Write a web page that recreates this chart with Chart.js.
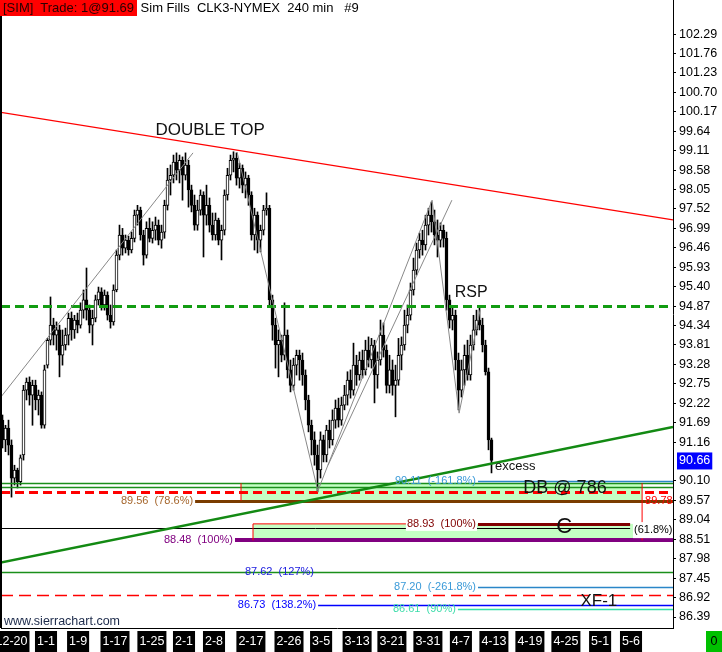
<!DOCTYPE html>
<html>
<head>
<meta charset="utf-8">
<script src="https://cdn.jsdelivr.net/npm/chart.js@4.4.0/dist/chart.umd.min.js"></script>
<style>
html, body { margin: 0; padding: 0; background: #fff; overflow: hidden; }
#wrap { position: relative; width: 722px; height: 652px; }
#hdr { position: absolute; left: 0; top: 0; font: 13px "Liberation Sans", Arial, sans-serif; line-height: 16px; white-space: pre; color: #000; }
#hdr span { background: #ff0000; color: #2a0000; padding: 0 3px; display: inline-block; }
</style>
</head>
<body>
<div id="wrap">
  <canvas id="myChart" width="722" height="652"></canvas>
  <div id="hdr"><span>[SIM]  Trade: 1@91.69</span> Sim Fills  CLK3-NYMEX  240 min   #9</div>
</div>
<script>
// 240 min bars, CLK3
let opens = [91.49,91.76,91.22,91.54,91.08,90.18,90.40,90.08,90.81,92.58,
  92.80,92.44,92.71,92.31,92.44,91.62,93.26,93.94,94.35,94.08,
  94.22,93.53,93.81,94.08,94.54,94.22,94.49,94.35,94.76,95.04,
  94.76,94.35,94.54,95.04,95.26,94.90,95.17,94.62,94.44,95.31,
  96.26,96.81,96.45,96.67,96.40,96.72,97.35,97.49,96.81,96.26,
  96.99,96.72,96.94,97.08,96.67,96.89,97.62,98.31,98.44,98.80,
  98.58,98.85,98.44,98.72,98.04,97.62,97.08,97.49,97.90,97.35,
  97.62,97.08,96.81,97.22,96.67,96.94,97.90,98.44,98.85,98.91,
  98.36,98.63,98.17,98.36,97.90,96.81,97.35,96.67,96.94,97.49,
  97.54,95.04,94.35,93.81,93.94,93.53,94.08,93.13,92.71,93.26,
  93.53,93.40,92.99,92.31,91.62,91.22,90.81,90.40,91.22,90.81,
  91.49,91.22,91.76,92.09,91.76,92.17,92.44,92.85,92.58,93.26,
  92.99,93.40,93.13,93.67,93.40,93.81,92.99,93.40,94.08,93.67,
  92.71,93.13,92.71,92.85,93.53,93.81,94.35,94.62,95.31,95.85,
  96.40,96.67,96.54,97.08,97.35,97.17,96.81,96.67,96.94,96.72,
  95.04,94.49,94.62,93.40,92.58,93.13,93.53,92.99,93.81,94.22,
  94.49,94.35,93.81,93.08,91.22];
let highs = [91.99,91.90,91.62,91.76,91.22,90.53,90.45,90.81,92.71,92.91,
  92.94,92.85,92.85,92.58,92.53,93.26,93.99,95.12,94.54,94.44,
  94.35,94.22,94.27,94.68,94.71,94.62,94.68,94.96,95.31,95.91,
  94.90,94.76,95.17,95.39,95.37,95.31,95.26,94.90,95.45,96.40,
  97.08,96.99,96.81,96.78,96.89,97.49,97.62,97.57,96.94,97.17,
  97.27,97.17,97.30,97.22,97.08,97.76,98.63,98.72,98.99,99.05,
  98.99,98.94,99.05,98.85,98.17,97.90,97.76,98.04,97.99,98.17,
  97.82,97.41,97.41,97.27,97.08,98.04,98.63,98.99,99.08,99.05,
  98.77,98.72,98.53,98.44,97.99,97.54,97.44,97.08,97.62,97.96,
  97.62,95.17,94.54,94.22,94.08,94.96,94.22,93.40,93.45,93.67,
  93.67,93.59,93.13,92.44,91.76,91.44,91.08,91.44,91.35,91.62,
  91.76,92.04,92.31,92.36,92.39,92.71,93.08,93.13,93.86,93.53,
  93.62,93.67,93.94,94.03,93.99,93.94,93.62,94.49,94.41,93.81,
  93.53,93.40,93.26,93.99,94.03,94.76,94.90,95.50,96.18,96.59,
  96.86,96.94,97.35,97.54,97.71,97.49,97.22,97.14,97.08,96.89,
  95.17,94.82,94.76,93.59,93.40,93.81,93.94,94.08,94.62,94.76,
  94.84,94.54,93.94,93.18,91.27];
let lows = [91.22,91.00,90.90,90.81,89.66,89.99,89.91,89.99,90.67,92.31,
  92.17,91.62,92.04,91.90,91.54,91.54,93.18,93.81,93.81,93.67,
  92.94,93.26,93.67,93.81,93.94,93.99,94.14,94.27,94.54,94.49,
  94.14,93.81,94.44,94.90,94.76,94.76,94.49,94.27,94.35,95.26,
  96.13,96.26,96.32,96.26,96.32,96.62,97.08,96.67,95.99,96.18,
  96.62,96.59,96.67,96.54,96.45,96.72,97.49,97.90,98.23,98.31,
  98.23,97.76,98.31,97.57,97.44,96.94,96.94,97.35,96.21,97.08,
  96.89,96.67,96.67,96.54,96.13,96.81,97.76,98.31,98.53,98.17,
  98.09,97.96,97.82,97.62,96.67,96.40,96.32,96.35,96.81,97.35,
  94.90,93.94,93.18,92.94,93.35,93.40,92.91,92.53,92.58,92.99,
  92.85,92.71,92.04,91.44,90.81,90.53,89.80,90.18,90.62,90.62,
  91.00,91.08,91.54,91.57,91.62,92.04,92.17,92.36,92.44,92.71,
  92.85,92.91,92.99,93.21,93.18,92.23,92.63,93.26,93.48,92.50,
  92.50,92.44,91.85,92.71,93.13,93.67,94.14,94.49,95.17,95.72,
  96.18,96.26,96.40,96.81,96.89,96.54,96.21,96.48,96.48,94.76,
  94.27,94.22,93.13,92.04,92.39,92.71,92.85,92.85,93.67,94.08,
  94.22,93.62,92.99,90.95,90.32];
let closes = [91.76,91.22,91.54,91.08,90.18,90.40,90.08,90.73,92.58,92.80,
  92.44,92.71,92.31,92.44,91.62,93.13,93.94,94.35,94.08,94.22,
  93.53,93.81,94.08,94.54,94.22,94.49,94.35,94.76,95.04,94.76,
  94.35,94.54,95.04,95.26,94.90,95.17,94.62,94.44,95.31,96.26,
  96.81,96.45,96.67,96.40,96.72,97.35,97.49,96.81,96.26,96.99,
  96.72,96.94,97.08,96.67,96.89,97.62,98.31,98.44,98.80,98.58,
  98.85,98.44,98.72,98.04,97.62,97.08,97.49,97.90,97.35,97.62,
  97.08,96.81,97.22,96.67,96.94,97.90,98.44,98.85,98.91,98.36,
  98.63,98.17,98.36,97.90,96.81,97.35,96.67,96.94,97.49,97.54,
  95.04,94.35,93.81,93.94,93.53,94.08,93.13,92.71,93.26,93.53,
  93.40,92.99,92.31,91.62,91.22,90.81,90.40,91.22,90.81,91.49,
  91.22,91.76,92.09,91.76,92.17,92.44,92.85,92.58,93.26,92.99,
  93.40,93.13,93.67,93.40,93.81,92.99,93.40,94.08,93.67,92.71,
  93.13,92.71,92.85,93.53,93.81,94.35,94.62,95.31,95.85,96.40,
  96.67,96.54,97.08,97.35,97.17,96.81,96.67,96.94,96.72,95.04,
  94.49,94.62,93.40,92.58,93.13,93.53,92.99,93.81,94.22,94.49,
  94.35,93.81,93.08,91.22,90.66];

let dateLabels = ['12-20','1-1','1-9','1-17','1-25','2-1','2-8','2-17','2-26','3-5',
  '3-13','3-21','3-31','4-7','4-13','4-19','4-25','5-1','5-6'];
let datePos = [4.0,15.5,26.2,38.5,50.8,61.5,71.5,83.8,96.5,107.2,
  119.2,130.8,142.8,153.8,164.8,176.8,188.8,200.2,210.5];
let yTicks = [102.29,101.76,101.23,100.70,100.17,99.64,99.11,98.58,98.05,97.52,
  96.99,96.46,95.93,95.40,94.87,94.34,93.81,93.28,92.75,92.22,91.69,91.16,
  90.10,89.57,89.04,88.51,87.98,87.45,86.92,86.39];
let lastPrice = 90.66;

// drawing tools on the chart (price levels, fib labels, trendlines)
let levels = [
  {p: 94.87, c: '#129c12', w: 3, dash: [9, 5]},
  {p: 89.79, c: '#ff0000', w: 3, dash: [9, 5]},
  {p: 90.04, c: '#1b8f1b', w: 1.5},
  {p: 89.94, c: '#1b8f1b', w: 1.5},
  {p: 90.11, from: 159.5, c: '#2a86c8', w: 1.5, label: '90.11  (-161.8%)', lc: '#3a9ad8'},
  {p: 89.56, from: 65.2, c: '#7a3c00', w: 3, label: '89.56  (78.6%)', lc: '#a5662c'},
  {p: 88.82, to: 210.2, c: '#000000', w: 1},
  {p: 88.93, from: 159.5, to: 210.2, c: '#800000', w: 3, label: '88.93  (100%)', lc: '#800000', bg: '#ffffff'},
  {p: 88.48, from: 78.5, c: '#800080', w: 4, label: '88.48  (100%)', lc: '#800080'},
  {p: 87.62, c: '#1b8f1b', w: 1.5, label: '87.62  (127%)', lc: '#2020e0', at: 105.5},
  {p: 87.20, from: 159.5, c: '#2a86c8', w: 1.5, label: '87.20  (-261.8%)', lc: '#3a9ad8'},
  {p: 86.99, c: '#ff0000', w: 1.5, dash: [12, 6]},
  {p: 86.73, from: 106.2, c: '#0000ff', w: 1.5, label: '86.73  (138.2%)', lc: '#0000ff'},
  {p: 86.61, from: 152.8, c: '#33e0a8', w: 1.5, label: '86.61  (90%)', lc: '#3cdcaa'}
];
let zones = [
  {x0: 80.5, x1: 214.2, p0: 90.04, p1: 89.56},
  {x0: 84.5, x1: 214.2, p0: 88.93, p1: 88.48}
];
let segs = [
  {a: [0.17, 100.16], b: [224.5, 97.22], c: '#ff0000', w: 1.2},
  {a: [0.17, 87.87], b: [224.5, 91.57], c: '#138a13', w: 2.5},
  {a: [0.17, 92.36], b: [64.5, 99.05], c: '#888888', w: 1},
  {a: [79.2, 99.07], b: [106.2, 89.80], c: '#888888', w: 1},
  {a: [106.2, 89.85], b: [144.2, 97.76], c: '#888888', w: 1},
  {a: [109.5, 90.53], b: [150.8, 97.76], c: '#888888', w: 1},
  {a: [144.2, 97.76], b: [153.2, 91.95], c: '#888888', w: 1},
  {a: [153.2, 91.95], b: [160.2, 94.76], c: '#888888', w: 1},
  {a: [80.5, 90.04], b: [80.5, 89.56], c: '#ff0000', w: 1},
  {a: [84.5, 88.93], b: [84.5, 88.48], c: '#ff0000', w: 1},
  {a: [84.5, 88.93], b: [136.2, 88.93], c: '#ff0000', w: 1},
  {a: [214.2, 90.04], b: [214.2, 88.48], c: '#ff0000', w: 1}
];
let notes = [
  {t: 'DOUBLE TOP', x: 70.2, p: 99.67, size: 17, align: 'center'},
  {t: 'RSP', x: 157.2, p: 95.25, size: 16, align: 'center'},
  {t: 'excess', x: 165.2, p: 90.51, size: 13, align: 'left'},
  {t: 'DB @ 786', x: 188.5, p: 89.91, size: 18, align: 'center'},
  {t: 'C', x: 188.2, p: 88.85, size: 22, align: 'center'},
  {t: 'XF-1', x: 199.8, p: 86.83, size: 17, align: 'center'}
];

const FONT = '"Liberation Sans", Arial, sans-serif';
let bodyData = opens.map((o, i) => ({x: i, y: [o, closes[i]]}));
let wickData = highs.map((h, i) => ({x: i, y: [lows[i], h]}));
let bodyColors = opens.map((o, i) => closes[i] >= o ? '#ffffff' : '#000000');

let drawings = {
  id: 'drawings',
  beforeDatasetsDraw(chart) {
    const {ctx, chartArea: a, scales: {x, y}} = chart;
    ctx.save();
    ctx.beginPath(); ctx.rect(a.left, a.top, a.right - a.left, a.bottom - a.top); ctx.clip();
    ctx.fillStyle = '#c4ffc4';
    zones.forEach(z => {
      let x0 = x.getPixelForValue(z.x0), x1 = x.getPixelForValue(z.x1);
      let y0 = y.getPixelForValue(z.p0), y1 = y.getPixelForValue(z.p1);
      ctx.fillRect(x0, y0, x1 - x0, y1 - y0);
    });
    ctx.restore();
  },
  afterDatasetsDraw(chart) {
    const {ctx, chartArea: a, scales: {x, y}} = chart;
    ctx.save();
    ctx.beginPath(); ctx.rect(a.left, a.top, a.right - a.left, a.bottom - a.top); ctx.clip();

    levels.forEach(l => {
      let py = Math.round(y.getPixelForValue(l.p)) + (l.w % 2 ? 0.5 : 0);
      let x0 = l.from != null ? x.getPixelForValue(l.from) : a.left;
      let x1 = l.to != null ? x.getPixelForValue(l.to) : a.right;
      ctx.strokeStyle = l.c; ctx.lineWidth = l.w;
      ctx.setLineDash(l.dash || []);
      ctx.beginPath(); ctx.moveTo(x0, py); ctx.lineTo(x1, py); ctx.stroke();
    });
    ctx.setLineDash([]);

    segs.forEach(s => {
      ctx.strokeStyle = s.c; ctx.lineWidth = s.w;
      ctx.beginPath();
      ctx.moveTo(x.getPixelForValue(s.a[0]), y.getPixelForValue(s.a[1]));
      ctx.lineTo(x.getPixelForValue(s.b[0]), y.getPixelForValue(s.b[1]));
      ctx.stroke();
    });

    ctx.font = '11px ' + FONT;
    ctx.textBaseline = 'middle';
    levels.filter(l => l.label).forEach(l => {
      let px = x.getPixelForValue(l.at != null ? l.at : l.from) - 2;
      let py = y.getPixelForValue(l.p);
      let w = ctx.measureText(l.label).width;
      if (l.bg) { ctx.fillStyle = l.bg; ctx.fillRect(px - w - 1, py - 7, w + 2, 14); }
      ctx.fillStyle = l.lc; ctx.textAlign = 'right';
      ctx.fillText(l.label, px, py);
    });
    // label at the end of the 61.8% line
    let lx = x.getPixelForValue(211.5), ly = y.getPixelForValue(88.76);
    let lw = ctx.measureText('(61.8%)').width;
    ctx.fillStyle = '#fff'; ctx.fillRect(lx - 1, ly - 8, lw + 4, 16);
    ctx.fillStyle = '#000'; ctx.textAlign = 'left'; ctx.fillText('(61.8%)', lx, ly);
    // value tag under the red dashed level
    ctx.fillStyle = '#ff0000'; ctx.textBaseline = 'top';
    ctx.fillText('89.78', x.getPixelForValue(215.2), y.getPixelForValue(89.79) + 3);

    ctx.textBaseline = 'middle';
    notes.forEach(n => {
      ctx.font = n.size + 'px ' + FONT;
      ctx.fillStyle = '#111';
      ctx.textAlign = n.align;
      ctx.fillText(n.t, x.getPixelForValue(n.x), y.getPixelForValue(n.p));
    });

    ctx.font = '12.5px ' + FONT;
    ctx.fillStyle = '#1c2a4a'; ctx.textAlign = 'left'; ctx.textBaseline = 'bottom';
    ctx.fillText('www.sierrachart.com', a.left + 3, a.bottom);
    ctx.restore();

    // left frame line
    ctx.fillStyle = '#000';
    ctx.fillRect(0, 0, 2, a.bottom);

    // last price tag on the price scale
    ctx.save();
    let ty = y.getPixelForValue(lastPrice);
    ctx.font = '12.5px ' + FONT;
    let tw = ctx.measureText(lastPrice.toFixed(2)).width;
    ctx.fillStyle = '#0000ff';
    ctx.fillRect(a.right + 4, ty - 8, tw + 4, 17);
    ctx.fillStyle = '#fff'; ctx.textAlign = 'left'; ctx.textBaseline = 'middle';
    ctx.fillText(lastPrice.toFixed(2), a.right + 6, ty + 0.5);
    // position box
    ctx.fillStyle = '#00c000';
    ctx.fillRect(706, a.bottom + 3, 16, 21);
    ctx.fillStyle = '#000'; ctx.textAlign = 'center';
    ctx.fillText('0', 714, a.bottom + 14);
    ctx.restore();
  }
};

let myChart = document.getElementById('myChart').getContext('2d');

let chart = new Chart(myChart, {
  type: 'bar',
  data: {
    datasets: [{
      label: 'body',
      data: bodyData,
      backgroundColor: bodyColors,
      borderColor: '#000000',
      borderWidth: 1,
      borderSkipped: false,
      barThickness: 3,
      grouped: false,
      order: 0
    }, {
      label: 'wick',
      data: wickData,
      backgroundColor: '#000000',
      barThickness: 1,
      grouped: false,
      order: 1
    }]
  },
  options: {
    responsive: false,
    devicePixelRatio: 1,
    animation: false,
    layout: { padding: { left: 1, top: 0, right: 0, bottom: 0 } },
    plugins: {
      legend: { display: false },
      tooltip: { enabled: false }
    },
    scales: {
      x: {
        type: 'linear',
        offset: false,
        min: 0.5,
        max: 224.5,
        grid: { display: false, drawTicks: false, offset: false },
        border: { display: true, color: '#000', width: 1 },
        afterBuildTicks: s => { s.ticks = datePos.map(v => ({value: v})); },
        afterFit: s => { s.height = 24; s.paddingLeft = 0; s.paddingRight = 0; },
        ticks: {
          autoSkip: false,
          maxRotation: 0,
          padding: 6,
          color: '#ffffff',
          font: { family: FONT, size: 12.5 },
          showLabelBackdrop: true,
          backdropColor: '#000000',
          backdropPadding: { top: 3, bottom: 3, left: 2, right: 2 },
          callback: (v, i) => dateLabels[i]
        }
      },
      y: {
        position: 'right',
        min: 86.09,
        max: 103.22,
        grid: { drawOnChartArea: false, drawTicks: true, tickLength: 3, color: '#000' },
        border: { display: true, color: '#000', width: 1 },
        afterBuildTicks: s => { s.ticks = yTicks.map(v => ({value: v})); },
        afterFit: s => { s.width = 49; s.paddingTop = 0; s.paddingBottom = 0; },
        ticks: {
          padding: 3,
          color: '#000',
          font: { family: FONT, size: 12.5 },
          callback: v => v.toFixed(2)
        }
      }
    }
  },
  plugins: [drawings]
});
</script>
</body>
</html>
